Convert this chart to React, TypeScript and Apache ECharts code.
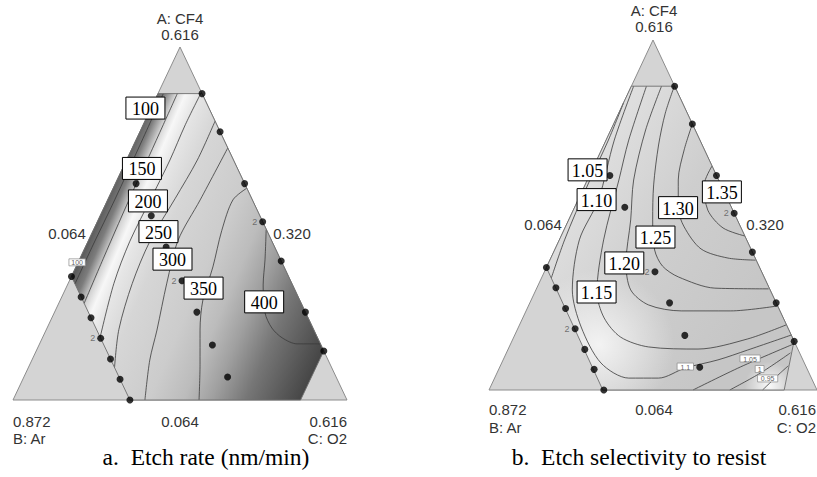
import React, { useEffect, useRef } from "react";
import * as echarts from "echarts";

// Compositions are stored as [A: CF4, C: O2] pseudo-fractions; B: Ar = 1 - A - C.
const simplex = [[1, 0], [0, 0], [0, 1]];
const etchRegion = [[0.868, 0], [0.868, 0.132], [0.139, 0.861], [0, 0.861], [0, 0.35], [0.35, 0]];
const selRegion = [[0.868, 0], [0.868, 0.132], [0.14, 0.86], [0, 0.9], [0, 0.347], [0.35, 0]];

const designPoints = [
  [0.868, 0.132], [0.76, 0.24], [0.613, 0.387], [0.505, 0.495], [0.394, 0.606], [0.249, 0.751], [0.139, 0.861],
  [0.613, 0.062], [0.522, 0.153], [0.433, 0.242], [0.338, 0.337], [0.249, 0.426], [0.156, 0.519], [0.065, 0.61],
  [0.35, 0], [0.292, 0.058], [0.233, 0.117], [0.175, 0.175], [0.116, 0.234], [0.059, 0.291], [0, 0.35],
];
const replicateIndex = [3, 10, 17];

// (a) Etch rate contours
const etch100 = [[0.868, 0.016], [0.722, 0.019], [0.567, 0.021], [0.439, 0.02], [0.329, 0.021]];
const etch150 = [[0.868, 0.058], [0.78, 0.06], [0.69, 0.062], [0.6, 0.063], [0.5, 0.066], [0.4, 0.07], [0.274, 0.076]];
const etch200 = [[0.868, 0.128], [0.78, 0.126], [0.68, 0.13], [0.58, 0.128], [0.45, 0.125], [0.33, 0.137], [0.178, 0.172]];
const etch250 = [[0.79, 0.21], [0.68, 0.212], [0.57, 0.2], [0.45, 0.185], [0.33, 0.192], [0.2, 0.217], [0.092, 0.258]];
const etch300 = [[0.714, 0.286], [0.567, 0.277], [0.453, 0.268], [0.331, 0.295], [0.198, 0.332], [0.113, 0.353], [0, 0.395]];
const etch350 = [[0.6, 0.4], [0.567, 0.375], [0.48, 0.385], [0.377, 0.41], [0.283, 0.427], [0.198, 0.461], [0.1, 0.51], [0, 0.557]];
const etch400 = [[0.482, 0.517], [0.397, 0.556], [0.326, 0.586], [0.247, 0.631], [0.204, 0.673], [0.176, 0.718], [0.159, 0.771], [0.159, 0.84]];
const etchLabelText = ["100", "150", "200", "250", "300", "350", "400"];
const etchLabelAt = [[0.827, -0.017], [0.656, 0.058], [0.564, 0.122], [0.477, 0.197], [0.399, 0.278], [0.317, 0.412], [0.278, 0.613]];
const etchSmallText = ["100"];
const etchSmallAt = [[0.39, -0.003]];

// (b) Etch selectivity contours
const sel105a = [[0.82, 0], [0.714, 0.007], [0.586, 0.008], [0.429, 0.016], [0.32, 0.03]];
const sel105b = [[0, 0.622], [0.066, 0.734], [0.131, 0.862]];
const sel110 = [[0.868, 0.007], [0.714, 0.025], [0.543, 0.062], [0.429, 0.061], [0.286, 0.111], [0.18, 0.191], [0.077, 0.303], [0.034, 0.409], [0.034, 0.5], [0.063, 0.567], [0.086, 0.655], [0.114, 0.731], [0.157, 0.843]];
const sel115 = [[0.868, 0.046], [0.714, 0.069], [0.6, 0.096], [0.429, 0.135], [0.28, 0.189], [0.206, 0.248], [0.151, 0.326], [0.123, 0.425], [0.117, 0.579], [0.146, 0.716], [0.186, 0.813]];
const sel120 = [[0.868, 0.092], [0.743, 0.106], [0.6, 0.141], [0.486, 0.189], [0.363, 0.236], [0.286, 0.289], [0.243, 0.365], [0.226, 0.473], [0.226, 0.624], [0.24, 0.759]];
const sel125 = [[0.868, 0.131], [0.791, 0.142], [0.7, 0.167], [0.586, 0.209], [0.486, 0.256], [0.4, 0.305], [0.354, 0.352], [0.323, 0.416], [0.291, 0.543], [0.289, 0.708]];
const sel130 = [[0.76, 0.24], [0.686, 0.252], [0.6, 0.277], [0.52, 0.317], [0.466, 0.362], [0.403, 0.445], [0.377, 0.54], [0.371, 0.627]];
const sel135 = [[0.64, 0.36], [0.586, 0.363], [0.514, 0.41], [0.463, 0.482], [0.44, 0.56]];
const sel100 = [[0, 0.734], [0.049, 0.804], [0.106, 0.866]];
const sel095 = [[0, 0.834], [0.049, 0.864], [0.069, 0.878]];
const selLabelText = ["1.05", "1.10", "1.15", "1.20", "1.25", "1.30", "1.35"];
const selLabelAt = [[0.629, -0.014], [0.544, 0.056], [0.28, 0.188], [0.363, 0.231], [0.437, 0.289], [0.521, 0.316], [0.566, 0.427]];
const selSmallText = ["1.1", "1.05", "1", "0.95"];
const selSmallAt = [[0.067, 0.565], [0.09, 0.751], [0.06, 0.795], [0.033, 0.833]];

const etchContours = [etch100, etch150, etch200, etch250, etch300, etch350, etch400];
const selContours = [sel105a, sel105b, sel110, sel115, sel120, sel125, sel130, sel135, sel100, sel095];

const toXY = (p: number[]) => [p[1] + p[0] / 2, p[0]];

const SANS = '"Liberation Sans", Arial, sans-serif';
const SERIF = '"Liberation Serif", "Times New Roman", serif';

const etchShade = (api: any) => {
  const p0 = api.coord(toXY([0.35, 0]));
  const p1 = api.coord(toXY([0.058, 0.864]));
  return new echarts.graphic.LinearGradient(p0[0], p0[1], p1[0], p1[1], [
    { offset: 0, color: "#575757" },
    { offset: 0.05, color: "#7c7c7c" },
    { offset: 0.092, color: "#d5d5d5" },
    { offset: 0.125, color: "#f7f7f7" },
    { offset: 0.17, color: "#e6e6e6" },
    { offset: 0.27, color: "#d6d6d6" },
    { offset: 0.46, color: "#cccccc" },
    { offset: 0.58, color: "#bcbcbc" },
    { offset: 0.68, color: "#a0a0a0" },
    { offset: 0.8, color: "#767676" },
    { offset: 1, color: "#454545" },
  ], true);
};
const selShade = (api: any) => {
  const p0 = api.coord(toXY([0.6, 0]));
  const p1 = api.coord(toXY([0.3, 0.7]));
  return new echarts.graphic.LinearGradient(p0[0], p0[1], p1[0], p1[1], [
    { offset: 0, color: "#dedede" },
    { offset: 0.45, color: "#cecece" },
    { offset: 1, color: "#c6c6c6" },
  ], true);
};
const selOverlays = [
  { at: [0.129, 0.271], r: 0.23, alpha: 0.75 },
  { at: [0.011, 0.849], r: 0.075, alpha: 0.9 },
];

function panelSeries(g: number, region: number[][], contours: number[][][], labelText: string[], labelAt: number[][],
  smallText: string[], smallAt: number[][], shade: (api: any) => any, overlays: any[]) {
  const s: any[] = [];
  s.push({
    type: "custom", xAxisIndex: g, yAxisIndex: g, z: 1, silent: true, clip: false, data: [0],
    renderItem: (_p: any, api: any) => {
      const tri = simplex.map((p) => api.coord(toXY(p)));
      const reg = region.map((p) => api.coord(toXY(p)));
      const children: any[] = [
        { type: "polygon", shape: { points: tri }, style: { fill: "#d4d4d4", stroke: "#8c8c8c", lineWidth: 1 } },
        { type: "polygon", shape: { points: reg }, style: { fill: shade(api) } },
      ];
      overlays.forEach((o) => {
        const c = api.coord(toXY(o.at));
        const r = api.size([o.r, 0])[0];
        children.push({
          type: "polygon", shape: { points: reg },
          style: {
            fill: new echarts.graphic.RadialGradient(c[0], c[1], r, [
              { offset: 0, color: `rgba(255,255,255,${o.alpha})` },
              { offset: 1, color: "rgba(255,255,255,0)" },
            ], true),
          },
        });
      });
      return { type: "group", children };
    },
  });
  contours.forEach((line) => {
    s.push({
      type: "line", xAxisIndex: g, yAxisIndex: g, z: 3, silent: true, symbol: "none", smooth: 0.3,
      data: line.map(toXY), lineStyle: { color: "#3a3a3a", width: 0.8 },
    });
  });
  s.push({
    type: "custom", xAxisIndex: g, yAxisIndex: g, z: 4, silent: true, clip: false, data: [0],
    renderItem: (_p: any, api: any) => ({
      type: "polygon",
      shape: { points: region.map((p) => api.coord(toXY(p))) },
      style: { fill: "none", stroke: "#6e6e6e", lineWidth: 0.9 },
    }),
  });
  s.push({
    type: "scatter", xAxisIndex: g, yAxisIndex: g, z: 5, silent: true, symbolSize: 7,
    itemStyle: { color: "#000" },
    data: designPoints.map((p, i) =>
      replicateIndex.includes(i)
        ? { value: toXY(p), label: { show: true, formatter: "2", position: "left", distance: 2, fontSize: 9, color: "#555", fontFamily: SANS } }
        : toXY(p)
    ),
  });
  s.push({
    type: "custom", xAxisIndex: g, yAxisIndex: g, z: 6, silent: true, clip: false,
    data: smallAt.map(toXY),
    renderItem: (p: any, api: any) => {
      const c = api.coord([api.value(0), api.value(1)]);
      const t = smallText[p.dataIndex];
      const w = Math.max(8, t.length * 3.8 + 5);
      return {
        type: "group", children: [
          { type: "rect", shape: { x: c[0] - w / 2, y: c[1] - 3.5, width: w, height: 7 }, style: { fill: "#fff", stroke: "#888", lineWidth: 0.7 } },
          { type: "text", x: c[0], y: c[1] + 0.5, style: { text: t, align: "center", verticalAlign: "middle", fontSize: 7, fontFamily: SANS, fill: "#666" } },
        ],
      };
    },
  });
  s.push({
    type: "custom", xAxisIndex: g, yAxisIndex: g, z: 7, silent: true, clip: false,
    data: labelAt.map(toXY),
    renderItem: (p: any, api: any) => {
      const c = api.coord([api.value(0), api.value(1)]);
      return {
        type: "group", children: [
          { type: "rect", shape: { x: c[0] - 19.5, y: c[1] - 11, width: 39, height: 22 }, style: { fill: "#fff", stroke: "#000", lineWidth: 1 } },
          { type: "text", x: c[0], y: c[1] + 1, style: { text: labelText[p.dataIndex], align: "center", verticalAlign: "middle", fontSize: 18, fontFamily: SERIF, fill: "#000" } },
        ],
      };
    },
  });
  return s;
}

const axisTexts: [string, number, number, string][] = [
  ["A: CF4", 180, 18.5, "center"], ["0.616", 180, 34.5, "center"],
  ["0.064", 67, 233, "center"], ["0.320", 292, 233, "center"],
  ["0.872", 13, 421, "left"], ["B: Ar", 13, 438, "left"],
  ["0.064", 180, 421, "center"], ["0.616", 347, 421, "right"], ["C: O2", 347, 438, "right"],
  ["A: CF4", 654, 10.5, "center"], ["0.616", 654, 26.5, "center"],
  ["0.064", 543, 224, "center"], ["0.320", 765, 224, "center"],
  ["0.872", 489, 409, "left"], ["B: Ar", 489, 427.5, "left"],
  ["0.064", 654, 409, "center"], ["0.616", 816, 409, "right"], ["C: O2", 816, 427.5, "right"],
];
const captions: [string, number, number][] = [
  ["a.  Etch rate (nm/min)", 206, 457],
  ["b.  Etch selectivity to resist", 639, 457],
];

function buildOption() {
  const graphic: any[] = [
    ...axisTexts.map(([t, x, y, a]) => ({
      type: "text", x, y, silent: true,
      style: { text: t, align: a, verticalAlign: "middle", fontSize: 15, fontFamily: SANS, fill: "#333" },
    })),
    ...captions.map(([t, x, y]) => ({
      type: "text", x, y, silent: true,
      style: { text: t, align: "center", verticalAlign: "middle", fontSize: 23.5, fontFamily: SERIF, fill: "#000" },
    })),
  ];
  return {
    animation: false,
    backgroundColor: "#fff",
    grid: [
      { left: 13, top: 47, width: 334, height: 353 },
      { left: 489, top: 40, width: 331, height: 350 },
    ],
    xAxis: [0, 1].map((i) => ({ type: "value", gridIndex: i, min: 0, max: 1, show: false })),
    yAxis: [0, 1].map((i) => ({ type: "value", gridIndex: i, min: 0, max: 1, show: false })),
    graphic,
    series: [
      ...panelSeries(0, etchRegion, etchContours, etchLabelText, etchLabelAt, etchSmallText, etchSmallAt, etchShade, []),
      ...panelSeries(1, selRegion, selContours, selLabelText, selLabelAt, selSmallText, selSmallAt, selShade, selOverlays),
    ],
  };
}

export default function App() {
  const ref = useRef<HTMLDivElement>(null);
  useEffect(() => {
    const chart = echarts.init(ref.current!, null, { renderer: "svg" });
    chart.setOption(buildOption() as any);
    return () => chart.dispose();
  }, []);
  return <div ref={ref} style={{ position: "fixed", left: 0, top: 0, width: 817, height: 477, background: "#fff" }} />;
}
